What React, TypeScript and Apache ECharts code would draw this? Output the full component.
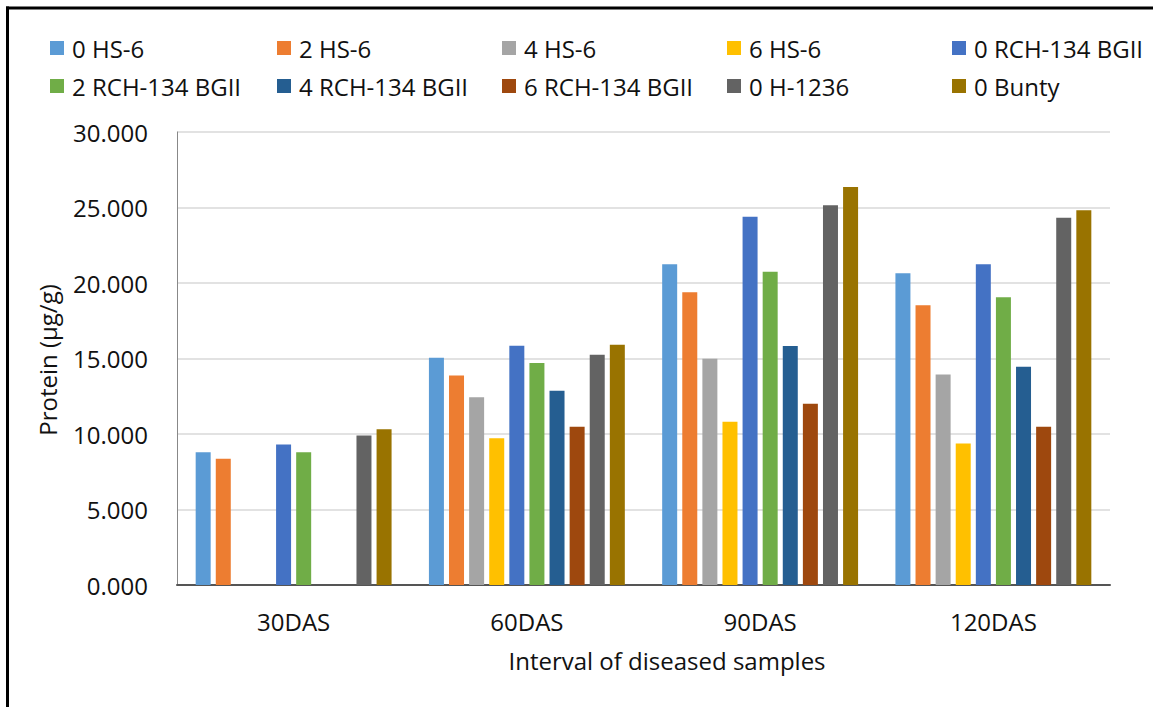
import React, { useEffect, useRef } from "react";
import * as echarts from "echarts";

const categories = ["30DAS", "60DAS", "90DAS", "120DAS"];
const seriesNames = [
  "0 HS-6",
  "2 HS-6",
  "4 HS-6",
  "6 HS-6",
  "0 RCH-134 BGII",
  "2 RCH-134 BGII",
  "4 RCH-134 BGII",
  "6 RCH-134 BGII",
  "0 H-1236",
  "0 Bunty",
];
const hs6_0 = [8.79, 15.05, 21.24, 20.65];
const hs6_2 = [8.36, 13.87, 19.39, 18.53];
const hs6_4 = [null, 12.44, 14.98, 13.94];
const hs6_6 = [null, 9.72, 10.81, 9.37];
const rch_0 = [9.3, 15.84, 24.38, 21.24];
const rch_2 = [8.79, 14.71, 20.74, 19.06];
const rch_4 = [null, 12.86, 15.82, 14.45];
const rch_6 = [null, 10.48, 12.0, 10.48];
const h1236_0 = [9.9, 15.25, 25.15, 24.32];
const bunty_0 = [10.32, 15.91, 26.35, 24.82];
const seriesValues = [hs6_0, hs6_2, hs6_4, hs6_6, rch_0, rch_2, rch_4, rch_6, h1236_0, bunty_0];
const colors = [
  "#5B9BD5",
  "#ED7D31",
  "#A5A5A5",
  "#FFC000",
  "#4472C4",
  "#70AD47",
  "#255E91",
  "#9E480E",
  "#636363",
  "#997300",
];
const yTicks = { min: 0, max: 30, interval: 5 };

const FONT = "'Open Sans', 'Liberation Sans', sans-serif";

export default function App() {
  const ref = useRef<HTMLDivElement>(null);
  useEffect(() => {
    if (!ref.current) return;
    const chart = echarts.init(ref.current, null, { renderer: "svg" });
    const colLefts = [50, 277, 502, 727, 952];
    const legends = colLefts.map((left, c) => ({
      orient: "vertical",
      left,
      top: 36,
      padding: 0,
      itemWidth: 14,
      itemHeight: 14,
      itemGap: 14,
      icon: "rect",
      selectedMode: false,
      data: [seriesNames[c], seriesNames[c + 5]],
      textStyle: { fontFamily: FONT, fontSize: 24, color: "#111", padding: [0, 0, 0, 3] },
    }));
    chart.setOption({
      animation: false,
      color: colors,
      textStyle: { fontFamily: FONT },
      legend: legends,
      grid: { left: 177, right: 43, top: 132, bottom: 122, containLabel: false },
      xAxis: {
        type: "category",
        data: categories,
        axisLine: { show: true, lineStyle: { color: "#555", width: 2 } },
        axisTick: { show: false },
        axisLabel: { fontFamily: FONT, fontSize: 24, color: "#111", margin: 24 },
      },
      yAxis: {
        type: "value",
        min: yTicks.min,
        max: yTicks.max,
        interval: yTicks.interval,
        axisLine: { show: true, lineStyle: { color: "#888", width: 1 } },
        axisTick: { show: false },
        splitLine: { lineStyle: { color: "#d9d9d9", width: 1.5 } },
        axisLabel: {
          fontFamily: FONT,
          fontSize: 24,
          color: "#111",
          margin: 29,
          formatter: (v: number) => v.toFixed(3),
        },
      },
      series: seriesNames.map((name, i) => ({
        name,
        type: "bar",
        data: seriesValues[i],
        barWidth: 15,
        barGap: "34%",
        itemStyle: { color: colors[i] },
      })),
      graphic: [
        {
          type: "text",
          x: 47,
          y: 360,
          rotation: Math.PI / 2,
          style: {
            text: "Protein (µg/g)",
            font: `24px ${FONT}`,
            fill: "#111",
            align: "center",
            verticalAlign: "middle",
          },
        },
        {
          type: "text",
          x: 667,
          y: 660,
          style: {
            text: "Interval of diseased samples",
            font: `24px ${FONT}`,
            fill: "#111",
            align: "center",
            verticalAlign: "middle",
          },
        },
        {
          type: "line",
          shape: { x1: 7.5, y1: 6.5, x2: 7.5, y2: 707 },
          style: { stroke: "#000", lineWidth: 3 },
        },
        {
          type: "line",
          shape: { x1: 6, y1: 8, x2: 1153, y2: 8 },
          style: { stroke: "#000", lineWidth: 3 },
        },
      ],
    });
    return () => chart.dispose();
  }, []);
  return (
    <div
      ref={ref}
      style={{ position: "fixed", left: 0, top: 0, width: 1153, height: 707, background: "#fff" }}
    />
  );
}
